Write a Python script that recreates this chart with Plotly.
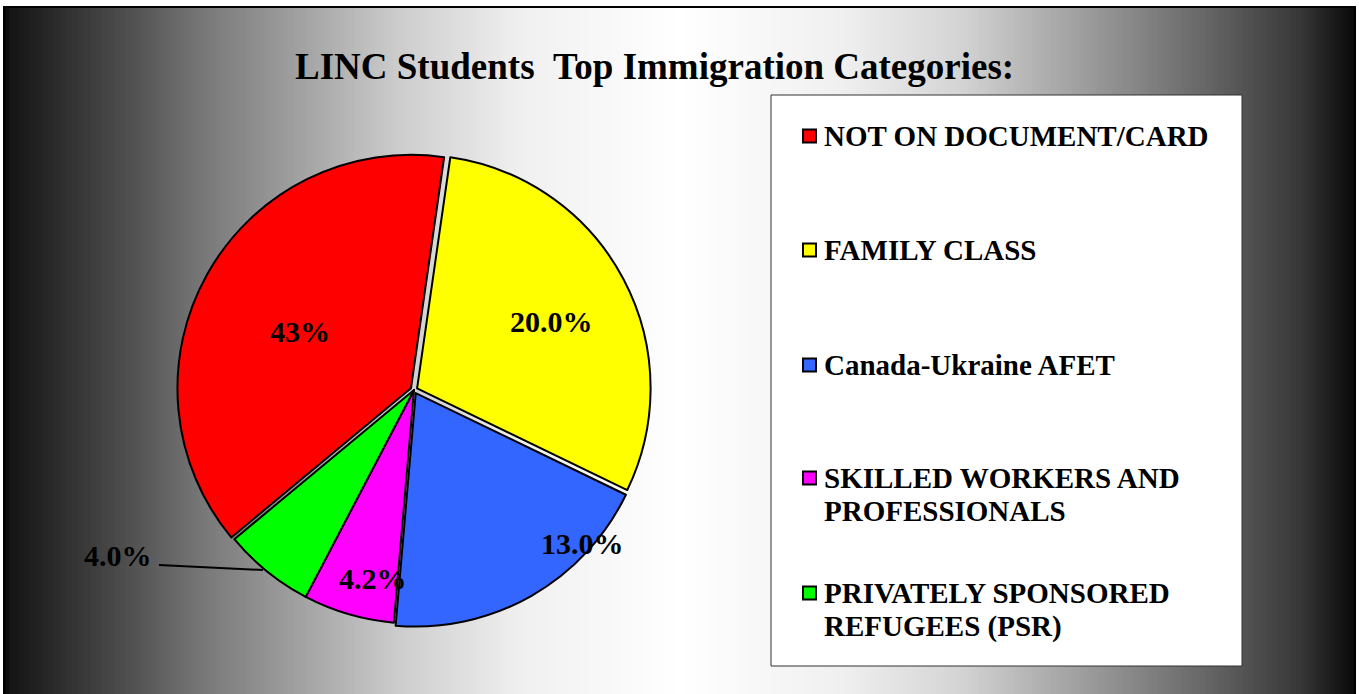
import plotly.graph_objects as go

W, H = 1359, 694

# ---- data ----
categories = ["NOT ON DOCUMENT/CARD", "FAMILY CLASS", "Canada-Ukraine AFET",
              "SKILLED WORKERS AND<br>PROFESSIONALS", "PRIVATELY SPONSORED<br>REFUGEES (PSR)"]
slice_values = [38.3, 29.9, 19.2, 6.3, 6.3]          # visual slice shares
slice_labels = ["43%", "20.0%", "13.0%", "4.2%", "4.0%"]  # printed labels
colors = ["#FF0000", "#FFFF00", "#3366FF", "#FF00FF", "#00FF00"]

FONT = "Liberation Serif"

def px(x):
    return x / W

def py(y):
    return 1 - y / H

fig = go.Figure()

fig.add_trace(go.Pie(
    values=slice_values,
    labels=[c.replace("<br>", " ") for c in categories],
    sort=False,
    direction="clockwise",
    rotation=230.3,
    pull=[0.015, 0.015, 0.015, 0, 0],
    marker=dict(colors=colors, line=dict(color="black", width=2)),
    textinfo="none",
    hoverinfo="label+percent",
    showlegend=False,
    domain=dict(x=[px(177), px(651)], y=[py(627), py(153)]),
))

shapes = []
# gradient background (horizontal: dark edges, light centre)
stops = [(3, 0), (10, 20), (130, 80), (200, 118), (400, 205), (520, 240), (680, 255),
         (840, 240), (960, 212), (1100, 150), (1200, 105), (1300, 55), (1356, 8)]

def gray(x):
    for (x0, v0), (x1, v1) in zip(stops[:-1], stops[1:]):
        if x0 <= x <= x1:
            return v0 + (v1 - v0) * (x - x0) / (x1 - x0)
    return 0

step = 3
x = 3
while x < 1356:
    v = int(round(gray(x + step / 2)))
    c = f"rgb({v},{v},{v})"
    shapes.append(dict(type="rect", xref="paper", yref="paper", layer="below",
                       x0=px(x), x1=px(min(x + step + 0.5, 1356)), y0=0, y1=py(7),
                       fillcolor=c, line=dict(width=0)))
    x += step
# frame
shapes.append(dict(type="rect", xref="paper", yref="paper", layer="below",
                   x0=px(4), x1=px(1355), y0=py(700), y1=py(7),
                   fillcolor="rgba(0,0,0,0)", line=dict(color="black", width=2)))

# legend box
shapes.append(dict(type="rect", xref="paper", yref="paper", layer="above",
                   x0=px(771), x1=px(1242), y0=py(666), y1=py(95),
                   fillcolor="white", line=dict(color="#333333", width=1)))

legend_y = [136, 250, 365, 478, 593]
annotations = []
for cat, col, yc in zip(categories, colors, legend_y):
    shapes.append(dict(type="rect", xref="paper", yref="paper", layer="above",
                       x0=px(803), x1=px(816), y0=py(yc + 6.5), y1=py(yc - 6.5),
                       fillcolor=col, line=dict(color="black", width=2)))
    for i, line in enumerate(cat.split("<br>")):
        annotations.append(dict(text=line, xref="paper", yref="paper",
                                x=px(822), y=py(yc + 33 * i), xanchor="left", yanchor="middle",
                                align="left", showarrow=False,
                                font=dict(family=FONT, size=29, color="black", weight="bold")))

# title
annotations.append(dict(text="LINC Students&nbsp;&nbsp;Top Immigration Categories:",
                        xref="paper", yref="paper", x=px(654), y=py(66),
                        xanchor="center", yanchor="middle", showarrow=False,
                        font=dict(family=FONT, size=37, color="black", weight="bold")))

# slice labels
label_pos = [(300, 331), (551, 322), (582, 543), (373, 578), (118, 555)]
for lab, (lx, ly) in zip(slice_labels, label_pos):
    annotations.append(dict(text=lab, xref="paper", yref="paper", x=px(lx), y=py(ly),
                            xanchor="center", yanchor="middle", showarrow=False,
                            font=dict(family=FONT, size=30, color="black", weight="bold")))
# leader line for 4.0%
shapes.append(dict(type="line", xref="paper", yref="paper", layer="above",
                   x0=px(159), y0=py(565), x1=px(263), y1=py(570),
                   line=dict(color="black", width=2)))

fig.update_layout(
    width=W, height=H,
    margin=dict(l=0, r=0, t=0, b=0),
    paper_bgcolor="white",
    plot_bgcolor="rgba(0,0,0,0)",
    shapes=shapes,
    annotations=annotations,
)

fig.write_html("out.html")
